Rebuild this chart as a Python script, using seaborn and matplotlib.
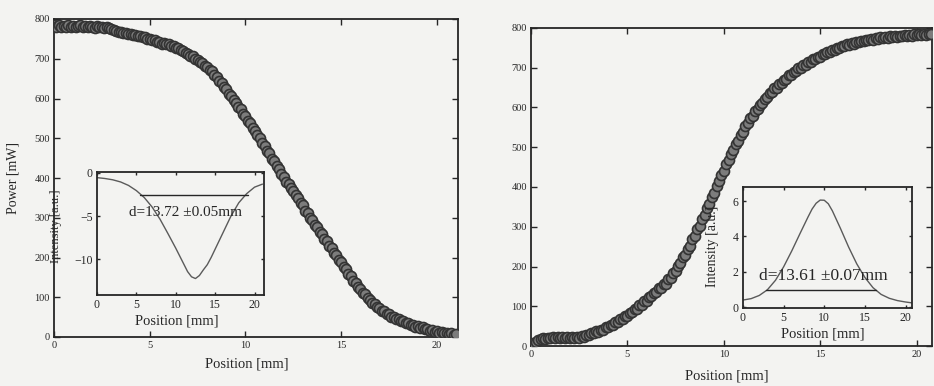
import numpy as np
import pandas as pd
import matplotlib
matplotlib.use("Agg")
import matplotlib.pyplot as plt
import seaborn as sns

# ---- knife-edge scans (step 0.125 mm), transmitted power in mW ----
scan_step_mm = 0.125
power_falling = [
    785, 781, 784, 780, 783, 779, 784, 781, 783, 779, 782, 784, 780, 782, 779, 783,
    781, 778, 782, 779, 781, 778, 781, 778, 776, 773, 771, 768, 768, 764, 766, 762,
    763, 759, 761, 757, 758, 754, 754, 749, 750, 746, 747, 742, 743, 738, 740, 736,
    737, 732, 732, 727, 727, 721, 720, 714, 713, 707, 706, 699, 698, 691, 689, 681,
    679, 671, 668, 659, 655, 645, 640, 629, 623, 612, 606, 595, 589, 578, 573, 562,
    556, 544, 538, 526, 519, 507, 500, 488, 481, 469, 462, 449, 442, 429, 422, 409,
    402, 390, 385, 374, 368, 356, 350, 338, 331, 318, 312, 300, 294, 282, 276, 264,
    258, 247, 241, 229, 223, 212, 206, 194, 188, 176, 170, 158, 153, 142, 137, 126,
    121, 111, 107, 97, 94, 85, 83, 75, 73, 66, 65, 58, 58, 51, 51, 45,
    45, 39, 40, 34, 35, 30, 31, 26, 27, 22, 24, 19, 21, 16, 18, 13,
    15, 11, 13, 9, 11, 7, 9, 5, 8,
]
power_rising = [
    2, 7, 11, 15, 17, 20, 18, 21, 19, 22, 20, 22, 19, 22, 20, 23,
    20, 22, 19, 23, 21, 25, 23, 28, 27, 32, 32, 37, 36, 41, 41, 47,
    48, 53, 54, 60, 60, 67, 68, 75, 76, 84, 85, 93, 94, 103, 104, 113,
    114, 123, 125, 134, 136, 145, 147, 155, 157, 168, 172, 184, 189, 202, 209, 223,
    230, 245, 252, 268, 277, 294, 303, 320, 330, 347, 357, 374, 384, 403, 414, 431,
    441, 458, 467, 483, 492, 508, 516, 531, 539, 553, 560, 573, 579, 591, 596, 607,
    611, 622, 626, 636, 639, 648, 650, 659, 661, 670, 672, 681, 682, 690, 691, 699,
    700, 707, 708, 715, 715, 722, 722, 728, 728, 734, 734, 740, 740, 745, 745, 750,
    750, 755, 754, 759, 758, 762, 761, 766, 764, 768, 767, 771, 769, 773, 771, 775,
    773, 777, 775, 778, 776, 779, 777, 780, 778, 781, 779, 782, 780, 783, 781, 784,
    782, 785, 782, 785, 783, 786, 784,
]

# ---- beam profiles (derivative fits) shown in the insets ----
profile_left_x = [0, 1, 2, 3, 4, 5, 6, 7, 8, 9, 9.5, 10, 10.5, 11, 11.5, 12, 12.5,
                  13, 13.5, 14, 14.5, 15, 15.5, 16, 17, 18, 19, 20, 21]
profile_left_y = [-0.55, -0.65, -0.8, -1.05, -1.45, -2.05, -2.85, -3.95, -5.35, -7.0,
                  -7.85, -8.7, -9.6, -10.5, -11.4, -12.0, -12.2, -11.85, -11.2, -10.6,
                  -9.75, -8.8, -7.85, -6.9, -5.0, -3.45, -2.4, -1.65, -1.3]
profile_right_x = [0, 1, 2, 3, 4, 5, 6, 7, 8, 8.5, 9, 9.5, 10, 10.5, 11, 12, 13, 14,
                   15, 16, 17, 18, 19, 20, 20.8]
profile_right_y = [0.40, 0.48, 0.66, 0.98, 1.52, 2.28, 3.18, 4.15, 5.1, 5.55, 5.88,
                   6.06, 6.05, 5.85, 5.45, 4.45, 3.4, 2.45, 1.68, 1.1, 0.72, 0.5,
                   0.37, 0.29, 0.24]

# beam diameters and where they were evaluated
diam_left, diam_left_err, centre_left, level_left = 13.72, 0.05, 12.35, -2.5
diam_right, diam_right_err, centre_right, level_right = 13.61, 0.07, 9.6, 0.95

power_ticks = [0, 100, 200, 300, 400, 500, 600, 700, 800]
pos_ticks = [0, 5, 10, 15, 20]

falling = pd.DataFrame({"pos": np.arange(len(power_falling)) * scan_step_mm,
                        "power": power_falling})
rising = pd.DataFrame({"pos": np.arange(len(power_rising)) * scan_step_mm,
                       "power": power_rising})
prof_l = pd.DataFrame({"pos": profile_left_x, "inten": profile_left_y})
prof_r = pd.DataFrame({"pos": profile_right_x, "inten": profile_right_y})

sns.set_theme(style="ticks")
plt.rcParams["font.family"] = ["Liberation Serif", "DejaVu Serif"]
plt.rcParams["axes.unicode_minus"] = True

paper = "#f3f3f1"
ink = "#262626"

fig = plt.figure(figsize=(9.34, 3.86), dpi=100, facecolor=paper)

ax_l = fig.add_axes([54 / 934, 49 / 386, 404 / 934, 318 / 386])
ax_r = fig.add_axes([531 / 934, 40 / 386, 401 / 934, 318 / 386])
in_l = fig.add_axes([97 / 934, 91 / 386, 167 / 934, 123 / 386])
in_r = fig.add_axes([743 / 934, 78 / 386, 169 / 934, 121 / 386])


def style_axes(ax, labelsize, length):
    ax.set_facecolor(paper)
    for sp in ax.spines.values():
        sp.set_visible(True)
        sp.set_linewidth(1.3)
        sp.set_color(ink)
    ax.tick_params(direction="in", top=True, right=True, length=length, width=1.0,
                   colors=ink, labelsize=labelsize, pad=3)


scatter_kw = dict(s=52, color="#7c7c7c", edgecolor="#333333", linewidth=1.2,
                  legend=False, zorder=3)

# ---- left: falling edge ----
sns.scatterplot(data=falling, x="pos", y="power", ax=ax_l, **scatter_kw)
ax_l.set_xlim(0, 21.1)
ax_l.set_ylim(0, 800)
ax_l.set_xticks(pos_ticks)
ax_l.set_yticks(power_ticks)
style_axes(ax_l, 7.5, 4)
ax_l.set_xlabel("Position [mm]", fontsize=10.5, color=ink)
ax_l.set_ylabel("Power [mW]", fontsize=10, color=ink)
ax_l.xaxis.set_label_coords(0.478, -0.065)
ax_l.yaxis.set_label_coords(-0.085, 0.5)

# ---- right: rising edge ----
sns.scatterplot(data=rising, x="pos", y="power", ax=ax_r, **scatter_kw)
ax_r.set_xlim(0, 20.8)
ax_r.set_ylim(0, 800)
ax_r.set_xticks(pos_ticks)
ax_r.set_yticks(power_ticks)
style_axes(ax_r, 7.5, 4)
ax_r.set_xlabel("Position [mm]", fontsize=10.5, color=ink)
ax_r.set_ylabel("")
ax_r.xaxis.set_label_coords(0.489, -0.075)

# ---- inset: profile from falling edge ----
sns.lineplot(data=prof_l, x="pos", y="inten", ax=in_l, color="#5a5a5a",
             linewidth=1.0, sort=False, estimator=None)
in_l.plot([centre_left - diam_left / 2, centre_left + diam_left / 2],
          [level_left, level_left], color=ink, linewidth=1.0)
in_l.text(4.0, -4.6, f"d={diam_left:.2f} \u00b1{diam_left_err:.2f}mm",
          fontsize=11, color=ink, va="center", ha="left")
in_l.set_xlim(0, 21.2)
in_l.set_ylim(-14.1, 0.1)
in_l.set_xticks(pos_ticks)
in_l.set_yticks([0, -5, -10])
style_axes(in_l, 8.5, 2)
in_l.set_xlabel("Position [mm]", fontsize=10.5, color=ink)
in_l.set_ylabel("Intensity [a.u.]", fontsize=9, color=ink)
in_l.xaxis.set_label_coords(0.48, -0.16)
in_l.yaxis.set_label_coords(-0.21, 0.56)

# ---- inset: profile from rising edge ----
sns.lineplot(data=prof_r, x="pos", y="inten", ax=in_r, color="#5a5a5a",
             linewidth=1.0, sort=False, estimator=None)
in_r.plot([centre_right - diam_right / 2, centre_right + diam_right / 2],
          [level_right, level_right], color=ink, linewidth=1.0)
in_r.text(2.0, 1.78, f"d={diam_right:.2f} \u00b1{diam_right_err:.2f}mm",
          fontsize=12.5, color=ink, va="center", ha="left")
in_r.set_xlim(0, 20.8)
in_r.set_ylim(-0.05, 6.8)
in_r.set_xticks(pos_ticks)
in_r.set_yticks([0, 2, 4, 6])
style_axes(in_r, 8.5, 2)
in_r.set_xlabel("Position [mm]", fontsize=10.5, color=ink)
in_r.set_ylabel("Intensity [a.u.]", fontsize=10, color=ink)
in_r.xaxis.set_label_coords(0.47, -0.165)
in_r.yaxis.set_label_coords(-0.14, 0.51)

fig.savefig("out.png", dpi=100, facecolor=paper)
